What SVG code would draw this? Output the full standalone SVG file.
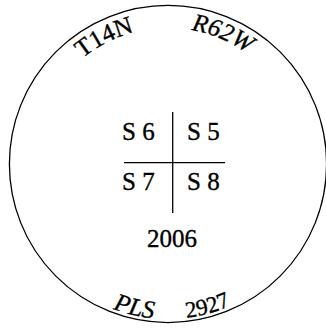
<svg xmlns="http://www.w3.org/2000/svg" xmlns:xlink="http://www.w3.org/1999/xlink" width="326" height="328" viewBox="0 0 326 328">
  <style>
    .t { font-family: "Liberation Serif", "Times New Roman", serif; fill: #000; stroke: #000; stroke-width: 0.35; }
    .ln { stroke: #000; stroke-width: 1.3; fill: none; }
  </style>
  <defs>
    <path id="topArc" d="M 32,164 A 136 136 0 0 1 304,164"/>
    <path id="botArc" d="M 13,164 A 155 155 0 0 0 323,164"/>
  </defs>
  <rect width="326" height="328" fill="#fff"/>
  <g id="boundary">
    <circle cx="168" cy="164" r="158.6" class="ln" stroke-width="1.5"/>
  </g>
  <g id="connectors">
    <line x1="172.7" y1="112" x2="172.7" y2="213" class="ln"/>
    <line x1="124" y1="162.7" x2="225" y2="162.7" class="ln"/>
  </g>
  <g id="township">
    <text class="t" font-size="25"><textPath xlink:href="#topArc" startOffset="121">T14N</textPath></text>
  </g>
  <g id="range">
    <text class="t" font-size="25" font-style="italic"><textPath xlink:href="#topArc" startOffset="237">R62W</textPath></text>
  </g>
  <g id="s6"><text class="t" font-size="25" x="122" y="140">S 6</text></g>
  <g id="s5"><text class="t" font-size="25" x="187" y="140">S 5</text></g>
  <g id="s7"><text class="t" font-size="25" x="122" y="190">S 7</text></g>
  <g id="s8"><text class="t" font-size="25" x="187" y="190">S 8</text></g>
  <g id="year"><text class="t" font-size="25" x="172" y="247" text-anchor="middle">2006</text></g>
  <g id="pls">
    <text class="t" font-size="25" font-style="italic"><textPath xlink:href="#botArc" startOffset="187">PLS</textPath></text>
  </g>
  <g id="number">
    <text class="t" font-size="23"><textPath xlink:href="#botArc" startOffset="262">2927</textPath></text>
  </g>
</svg>
